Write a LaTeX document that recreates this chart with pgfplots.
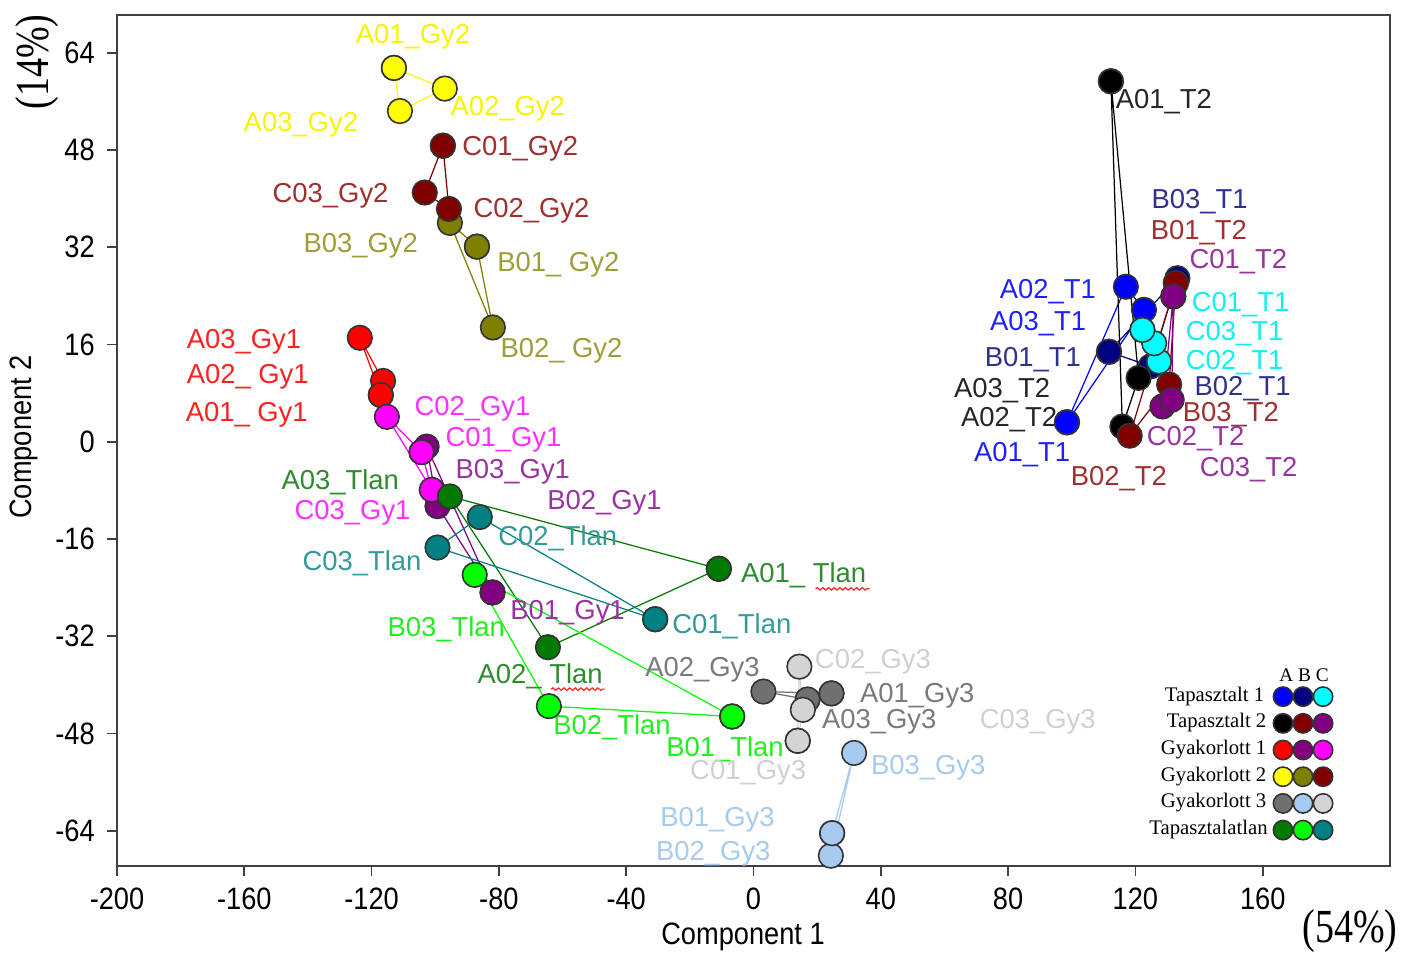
\documentclass[border=0pt]{standalone}
\usepackage{fontspec}
\setmainfont{Liberation Sans}
\newfontfamily\narrowsans[FakeStretch=0.88]{Liberation Sans}
\newfontfamily\serifnarrow[FakeStretch=0.8]{Liberation Serif}
\newfontfamily\seriffont{Liberation Serif}
\usepackage{pgfplots}
\pgfplotsset{compat=1.18}
\usetikzlibrary{decorations.pathmorphing}

\definecolor{cBlue}{HTML}{0000FF}
\definecolor{cNavy}{HTML}{000080}
\definecolor{cCyan}{HTML}{00FFFF}
\definecolor{cBlack}{HTML}{000000}
\definecolor{cMaroon}{HTML}{800000}
\definecolor{cPurple}{HTML}{800080}
\definecolor{cRed}{HTML}{FF0000}
\definecolor{cMagenta}{HTML}{FF00FF}
\definecolor{cYellow}{HTML}{FFFF00}
\definecolor{cOlive}{HTML}{808000}
\definecolor{cGray}{HTML}{707070}
\definecolor{cLBlue}{HTML}{A6CAF0}
\definecolor{cLGray}{HTML}{D4D4D4}
\definecolor{cGreen}{HTML}{007A00}
\definecolor{cLime}{HTML}{00FF00}
\definecolor{cTeal}{HTML}{008080}
% label text colours
\definecolor{tBlue}{HTML}{2020FF}
\definecolor{tNavy}{HTML}{303090}
\definecolor{tCyan}{HTML}{10F0F0}
\definecolor{tBlack}{HTML}{262626}
\definecolor{tMaroon}{HTML}{A03030}
\definecolor{tPurple}{HTML}{9933A0}
\definecolor{tRed}{HTML}{FF2020}
\definecolor{tMagenta}{HTML}{FF30FF}
\definecolor{tYellow}{HTML}{F5F500}
\definecolor{tOlive}{HTML}{9E9E38}
\definecolor{tGray}{HTML}{7A7A7A}
\definecolor{tLBlue}{HTML}{A6CAF0}
\definecolor{tLGray}{HTML}{D0D0D0}
\definecolor{tGreen}{HTML}{2E8B2E}
\definecolor{tLime}{HTML}{20F020}
\definecolor{tTeal}{HTML}{339999}

\tikzset{lbl/.style={anchor=west, inner sep=0pt, yshift=-0.9pt, font=\fontsize{7.8}{9}\selectfont}}

\begin{document}
\begin{tikzpicture}
\begin{axis}[
  at={(0,0)}, anchor=south west,
  width=12.73cm, height=8.51cm, scale only axis,
  xmin=-200, xmax=200, ymin=-69.8, ymax=70.2,
  xtick={-200,-160,...,160}, ytick={-64,-48,...,64},
  tick align=outside, tick pos=left, major tick length=2.8pt,
  axis line style={draw=black!75, line width=0.6pt},
  tick style={black!75, line width=0.5pt},
  tick label style={font=\narrowsans\fontsize{8.8}{10}\selectfont},
  /pgf/number format/assume math mode=true,
  clip=false,
  set layers, mark layer=axis foreground,
  legend columns=3, legend plot pos=right, legend cell align=right,
  legend style={draw=none, fill=none, at={(0.955,0.029)}, anchor=south east,
    inner sep=0pt, outer sep=0pt, column sep=-0.4pt, row sep=1.2pt,
    font=\seriffont\fontsize{5.9}{6.5}\selectfont, nodes={inner xsep=0pt, inner ysep=0.4pt}},
  legend image code/.code={\draw[#1, mark size=2.75pt] plot coordinates {(0cm,0cm)};},
  ser/.style={color=#1, line width=0.35pt, mark=*, mark size=3.5pt,
    mark options={solid, fill=#1, draw=black!80, line width=0.45pt}},
]
% Tapasztalt 1
\addplot[ser=cBlue] coordinates {(98.5,3.2) (117.0,25.5) (122.7,21.7) (98.5,3.2)};
\addlegendentry{\mbox{Tapasztalt 1\kern3pt}}
\addplot[ser=cNavy] coordinates {(111.7,14.8) (124.8,12.4) (133.2,26.9) (111.7,14.8)};
\addlegendentry{\mbox{}}
\addplot[ser=cCyan] coordinates {(122.2,18.4) (127.4,13.2) (125.9,16.2) (122.2,18.4)};
\addlegendentry{\mbox{}}
% Tapasztalt 2
\addplot[ser=cBlack] coordinates {(112.3,59.3) (115.9,2.5) (121.0,10.5) (112.3,59.3)};
\addlegendentry{\mbox{Tapasztalt 2\kern2.4pt}}
\addplot[ser=cMaroon] coordinates {(132.7,26.1) (118.2,1.0) (130.6,9.4) (132.7,26.1)};
\addlegendentry{\mbox{}}
\addplot[ser=cPurple] coordinates {(131.9,23.9) (128.5,5.8) (131.4,6.9) (131.9,23.9)};
\addlegendentry{\mbox{}}
% Gyakorlott 1
\addplot[ser=cRed] coordinates {(-117.1,7.7) (-116.4,10.0) (-123.7,17.1) (-117.1,7.7)};
\addlegendentry{\mbox{Gyakorlott 1\kern2.4pt}}
\addplot[ser=cPurple] coordinates {(-82.0,-24.8) (-99.3,-10.6) (-102.7,-0.8) (-82.0,-24.8)};
\addlegendentry{\mbox{}}
\addplot[ser=cMagenta] coordinates {(-104.3,-1.7) (-115.2,4.1) (-101.1,-7.9) (-104.3,-1.7)};
\addlegendentry{\mbox{}}
% Gyakorlott 2
\addplot[ser=cYellow] coordinates {(-113.0,61.5) (-97.0,58.1) (-111.1,54.4) (-113.0,61.5)};
\addlegendentry{\mbox{Gyakorlott 2\kern2.4pt}}
\addplot[ser=cOlive] coordinates {(-86.9,32.1) (-81.9,18.8) (-95.4,36.0) (-86.9,32.1)};
\addlegendentry{\mbox{}}
\addplot[ser=cMaroon] coordinates {(-97.6,48.7) (-95.7,38.3) (-103.3,41.0) (-97.6,48.7)};
\addlegendentry{\mbox{}}
% Gyakorlott 3
\addplot[ser=cGray] coordinates {(24.5,-41.4) (3.1,-41.1) (17.0,-42.4) (24.5,-41.4)};
\addlegendentry{\mbox{Gyakorlott 3\kern2.4pt}}
\addplot[ser=cLBlue] coordinates {(24.7,-64.4) (24.3,-68.1) (31.6,-51.2) (24.7,-64.4)};
\addlegendentry{\mbox{}}
\addplot[ser=cLGray] coordinates {(13.9,-49.2) (14.4,-37.0) (15.5,-44.1) (13.9,-49.2)};
\addlegendentry{\mbox{}}
% Tapasztalatlan
\addplot[ser=cGreen] coordinates {(-10.9,-20.9) (-64.6,-33.8) (-95.4,-9.0) (-10.9,-20.9)};
\addlegendentry{\mbox{Tapasztalatlan\kern2pt}}
\addplot[ser=cLime] coordinates {(-6.7,-45.2) (-64.3,-43.5) (-87.6,-21.9) (-6.7,-45.2)};
\addlegendentry{\mbox{}}
\addplot[ser=cTeal] coordinates {(-30.9,-29.2) (-86.0,-12.4) (-99.3,-17.4) (-30.9,-29.2)};
\addlegendentry{\mbox{}}

% legend header
\node[font=\seriffont\fontsize{5.5}{6}\selectfont, inner sep=0pt] at (rel axis cs:0.9325,0.2244) {A B C};

% point labels
\node[lbl,text=tYellow] at (axis cs:-125.2,67.1) {A01\_Gy2};
\node[lbl,text=tYellow] at (axis cs:-95.4,55.3) {A02\_Gy2};
\node[lbl,text=tYellow] at (axis cs:-160.4,52.6) {A03\_Gy2};
\node[lbl,text=tMaroon] at (axis cs:-91.7,48.7) {C01\_Gy2};
\node[lbl,text=tMaroon] at (axis cs:-151.3,41.0) {C03\_Gy2};
\node[lbl,text=tMaroon] at (axis cs:-88.2,38.5) {C02\_Gy2};
\node[lbl,text=tOlive] at (axis cs:-141.6,32.7) {B03\_Gy2};
\node[lbl,text=tOlive] at (axis cs:-80.7,29.6) {B01\_ Gy2};
\node[lbl,text=tOlive] at (axis cs:-79.7,15.5) {B02\_ Gy2};
\node[lbl,text=tRed] at (axis cs:-178.3,16.9) {A03\_Gy1};
\node[lbl,text=tRed] at (axis cs:-178.3,11.2) {A02\_ Gy1};
\node[lbl,text=tRed] at (axis cs:-178.6,4.9) {A01\_ Gy1};
\node[lbl,text=tMagenta] at (axis cs:-106.7,5.9) {C02\_Gy1};
\node[lbl,text=tMagenta] at (axis cs:-97.0,0.8) {C01\_Gy1};
\node[lbl,text=tMagenta] at (axis cs:-144.4,-11.2) {C03\_Gy1};
\node[lbl,text=tPurple] at (axis cs:-93.8,-4.4) {B03\_Gy1};
\node[lbl,text=tPurple] at (axis cs:-65.0,-9.5) {B02\_Gy1};
\node[lbl,text=tPurple] at (axis cs:-76.6,-27.6) {B01\_Gy1};
\node[lbl,text=tGreen] at (axis cs:-148.5,-6.1) {A03\_Tlan};
\node[lbl,text=tGreen] at (axis cs:-4.1,-21.5) {A01\_ Tlan};
\node[lbl,text=tGreen] at (axis cs:-86.9,-38.0) {A02\_ Tlan};
\node[lbl,text=tTeal] at (axis cs:-80.4,-15.3) {C02\_Tlan};
\node[lbl,text=tTeal] at (axis cs:-141.9,-19.4) {C03\_Tlan};
\node[lbl,text=tTeal] at (axis cs:-25.7,-29.8) {C01\_Tlan};
\node[lbl,text=tLime] at (axis cs:-115.2,-30.3) {B03\_Tlan};
\node[lbl,text=tLime] at (axis cs:-63.1,-46.4) {B02\_Tlan};
\node[lbl,text=tLime] at (axis cs:-27.6,-50.0) {B01\_Tlan};
\node[lbl,text=tGray] at (axis cs:-34.2,-37.0) {A02\_Gy3};
\node[lbl,text=tGray] at (axis cs:33.3,-41.3) {A01\_Gy3};
\node[lbl,text=tGray] at (axis cs:21.3,-45.6) {A03\_Gy3};
\node[lbl,text=tLGray] at (axis cs:19.1,-35.7) {C02\_Gy3};
\node[lbl,text=tLGray] at (axis cs:70.9,-45.6) {C03\_Gy3};
\node[lbl,text=tLGray] at (axis cs:-20.1,-53.9) {C01\_Gy3};
\node[lbl,text=tLBlue] at (axis cs:36.7,-53.1) {B03\_Gy3};
\node[lbl,text=tLBlue] at (axis cs:-29.5,-61.7) {B01\_Gy3};
\node[lbl,text=tLBlue] at (axis cs:-30.8,-67.3) {B02\_Gy3};
\node[lbl,text=tBlack] at (axis cs:113.6,56.4) {A01\_T2};
\node[lbl,text=tBlack] at (axis cs:62.8,8.9) {A03\_T2};
\node[lbl,text=tBlack] at (axis cs:65.0,4.1) {A02\_T2};
\node[lbl,text=tNavy] at (axis cs:124.9,40.0) {B03\_T1};
\node[lbl,text=tNavy] at (axis cs:72.5,14.0) {B01\_T1};
\node[lbl,text=tNavy] at (axis cs:138.4,9.2) {B02\_T1};
\node[lbl,text=tMaroon] at (axis cs:124.6,35.0) {B01\_T2};
\node[lbl,text=tMaroon] at (axis cs:134.7,4.9) {B03\_T2};
\node[lbl,text=tMaroon] at (axis cs:99.5,-5.6) {B02\_T2};
\node[lbl,text=tPurple] at (axis cs:136.8,30.1) {C01\_T2};
\node[lbl,text=tPurple] at (axis cs:123.4,1.0) {C02\_T2};
\node[lbl,text=tPurple] at (axis cs:140.0,-4.1) {C03\_T2};
\node[lbl,text=tBlue] at (axis cs:77.2,25.2) {A02\_T1};
\node[lbl,text=tBlue] at (axis cs:74.1,19.9) {A03\_T1};
\node[lbl,text=tBlue] at (axis cs:69.1,-1.6) {A01\_T1};
\node[lbl,text=tCyan] at (axis cs:137.5,23.0) {C01\_T1};
\node[lbl,text=tCyan] at (axis cs:135.6,18.3) {C03\_T1};
\node[lbl,text=tCyan] at (axis cs:135.6,13.5) {C02\_T1};
% spell-check underlines as in the reference
\draw[red!85, line width=0.35pt, decorate, decoration={snake, amplitude=0.35pt, segment length=1.6pt}]
  (axis cs:19.5,-24.2) -- (axis cs:36.5,-24.2);
\draw[red!85, line width=0.35pt, decorate, decoration={snake, amplitude=0.35pt, segment length=1.6pt}]
  (axis cs:-63.6,-40.7) -- (axis cs:-46.6,-40.7);
\end{axis}
\node[font=\narrowsans\fontsize{8.8}{10}\selectfont] at (6.26,-0.71) {Component 1};
\node[rotate=90, font=\narrowsans\fontsize{8.8}{10}\selectfont] at (-0.93,4.29) {Component 2};
\node[rotate=90, font=\serifnarrow\fontsize{13.5}{15}\selectfont] at (-0.80,8.04) {(14\%)};
\node[font=\serifnarrow\fontsize{13.5}{15}\selectfont] at (12.33,-0.65) {(54\%)};
\pgfresetboundingbox
\useasboundingbox (-1.17,-0.86) rectangle (13.07,8.66);
\end{tikzpicture}
\end{document}
